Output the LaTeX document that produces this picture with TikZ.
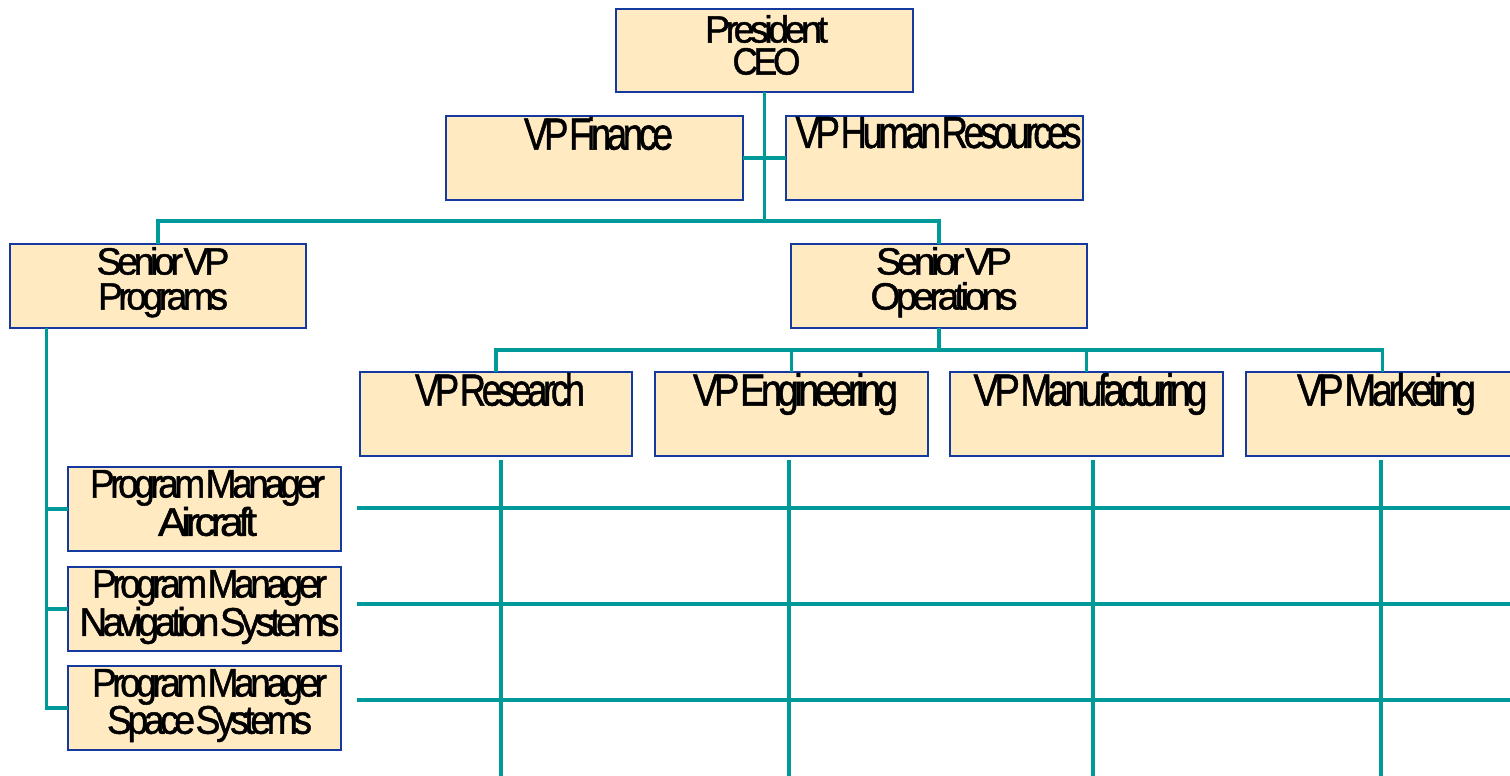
\documentclass[tikz,border=0pt]{standalone}
\usepackage{fontspec}
\setmainfont{Liberation Sans}[LetterSpace=-12,WordSpace=0.1,FakeBold=1.2]
\usepackage{graphicx}
\definecolor{boxfill}{RGB}{255,234,194}
\definecolor{boxline}{RGB}{20,58,160}
\definecolor{teal}{RGB}{0,153,153}
\newcommand\fw[2]{\resizebox{#1pt}{\height}{#2}}
\tikzset{
  orgbox/.style={draw=boxline, fill=boxfill, line width=2pt, inner sep=0pt, outer sep=0pt, minimum height=84pt},
  wide/.style={orgbox, minimum width=297pt},
  narrow/.style={orgbox, minimum width=273pt},
  lbl/.style={inner sep=0pt, outer sep=0pt, align=center, anchor=north, text=black},
  twoA/.style={lbl, font=\fontsize{38}{32}\selectfont},
  twoB/.style={lbl, font=\fontsize{38}{35}\selectfont},
  twoC/.style={lbl, font=\fontsize{40}{33}\selectfont},
  one/.style={lbl, font=\fontsize{45}{45}\selectfont},
  tree/.style={draw=teal, line width=3.3pt},
  grid/.style={draw=teal, line width=4pt}
}
\begin{document}
\begin{tikzpicture}[x=1pt,y=-1pt]
\useasboundingbox (0,0) rectangle (1510,776);
% boxes
\node[wide, minimum height=83pt] (pres) at (764.5,50.5) {};
\node[wide] (fin) at (594.5,158) {};
\node[wide] (hr) at (934.5,158) {};
\node[wide, minimum width=296pt] (svpp) at (158,286) {};
\node[wide, minimum width=296pt] (svpo) at (939,286) {};
\node[narrow, minimum width=272pt] (vpr) at (496,414) {};
\node[narrow] (vpe) at (791.5,414) {};
\node[narrow] (vpm) at (1086.5,414) {};
\node[narrow] (vpk) at (1382.5,414) {};
\node[narrow] (pma) at (204.5,509) {};
\node[narrow] (pmn) at (204.5,609) {};
\node[narrow] (pms) at (204.5,708) {};
% labels
\node[twoA] (tpres) at ([yshift=-6pt,xshift=2pt]pres.north) {\raisebox{0pt}[\height][0pt]{\fw{123}{President}}\\\fw{68}{CEO}};
\node[one] (tfin) at ([yshift=-1pt,xshift=4pt]fin.north) {\fw{149}{VP Finance}};
\node[one] (thr) at ([yshift=-1pt,xshift=4pt]hr.north) {\fw{286}{VP Human Resources}};
\node[twoB] (tsvpp) at ([yshift=-3pt,xshift=5pt]svpp.north) {\fw{133}{Senior VP}\\\fw{130}{Programs}};
\node[twoB] (tsvpo) at ([yshift=-3pt,xshift=5pt]svpo.north) {\fw{136}{Senior VP}\\\fw{147}{Operations}};
\node[one] (tvpr) at ([yshift=-1pt,xshift=4pt]vpr.north) {\fw{170}{VP Research}};
\node[one] (tvpe) at ([yshift=-1pt,xshift=4pt]vpe.north) {\fw{205}{VP Engineering}};
\node[one] (tvpm) at ([yshift=-1pt,xshift=4pt]vpm.north) {\fw{234}{VP Manufacturing}};
\node[one] (tvpk) at ([yshift=-1pt,xshift=4pt]vpk.north) {\fw{179}{VP Marketing}};
\node[twoC] (tpma) at ([yshift=-3pt,xshift=3pt]pma.north) {\fw{235}{Program Manager}\\\fw{99}{Aircraft}};
\node[twoC] (tpmn) at ([yshift=-3pt,xshift=5pt]pmn.north) {\fw{235}{Program Manager}\\\fw{260}{Navigation Systems}};
\node[twoC] (tpms) at ([yshift=-3pt,xshift=5pt]pms.north) {\fw{235}{Program Manager}\\\fw{205}{Space Systems}};
% tree connectors
\coordinate (b1) at (764.5,221);
\coordinate (b2) at (939,350);
\coordinate (p0) at (46.5,328);
\path[tree] (pres.south) -- (b1);
\path[tree] (fin.east) -- (hr.west);
\path[tree] (svpp.north) |- (b1) -| (svpo.north);
\path[tree] (svpo.south) -- (b2);
\path[tree] (vpr.north) |- (b2) -| (vpk.north);
\path[tree] (vpe.north) -- (vpe.north |- b2);
\path[tree] (vpm.north) -- (vpm.north |- b2);
\path[tree] (p0) |- (pms.west);
\path[tree] (pma.west) -- (pma.west -| p0);
\path[tree] (pmn.west) -- (pmn.west -| p0);
% matrix grid
\coordinate (g1a) at (501,460); \coordinate (g1b) at (501,776);
\coordinate (g2a) at (789,460); \coordinate (g2b) at (789,776);
\coordinate (g3a) at (1093,460); \coordinate (g3b) at (1093,776);
\coordinate (g4a) at (1381,460); \coordinate (g4b) at (1381,776);
\coordinate (h1a) at (357,508); \coordinate (h1b) at (1510,508);
\coordinate (h2a) at (357,604); \coordinate (h2b) at (1510,604);
\coordinate (h3a) at (357,700); \coordinate (h3b) at (1510,700);
\path[grid] (g1a) -- (g1b);
\path[grid] (g2a) -- (g2b);
\path[grid] (g3a) -- (g3b);
\path[grid] (g4a) -- (g4b);
\path[grid] (h1a) -- (h1b);
\path[grid] (h2a) -- (h2b);
\path[grid] (h3a) -- (h3b);
\end{tikzpicture}
\end{document}
